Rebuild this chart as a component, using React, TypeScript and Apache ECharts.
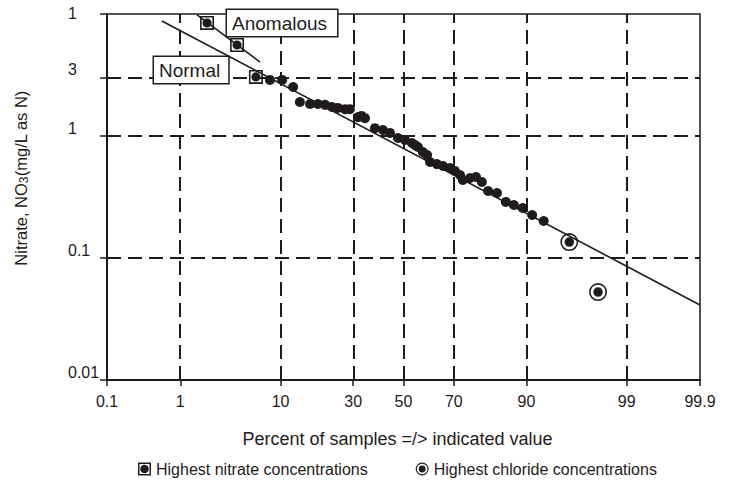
import React, { useEffect, useRef } from 'react';
import * as echarts from 'echarts';

// ---------- data ----------
const xTickPercents = [0.1, 1, 10, 30, 50, 70, 90, 99, 99.9];
const xTickLabels = ['0.1', '1', '10', '30', '50', '70', '90', '99', '99.9'];
const xGridPercents = [1, 10, 30, 50, 70, 90, 99];
const yTickValues = [0.01, 0.1, 1, 3, 10];
const yTickLabels = ['0.01', '0.1', '1', '3', '1'];
const yGridValues = [0.1, 1, 3];

const samplePercent = [
  8.2, 10.3, 12.5, 14.0, 16.5, 18.6, 20.7, 22.8, 24.7, 27.1, 28.8, 31.8, 33.1, 34.4,
  38.3, 41.5, 44.4, 47.7, 50.6, 53.5, 54.8, 56.0, 58.0, 59.7, 60.9, 63.6, 66.0, 68.6,
  70.4, 72.2, 73.2, 75.6, 77.5, 79.3, 81.1, 83.5, 85.7, 87.5, 89.3, 91.0, 92.8,
];
const sampleNitrate = [
  2.88, 2.88, 2.52, 1.90, 1.83, 1.83, 1.80, 1.73, 1.70, 1.66, 1.66, 1.43, 1.46, 1.40,
  1.16, 1.12, 1.06, 0.963, 0.927, 0.876, 0.843, 0.813, 0.739, 0.699, 0.612, 0.589, 0.568, 0.547,
  0.517, 0.479, 0.436, 0.453, 0.461, 0.420, 0.354, 0.341, 0.288, 0.272, 0.257, 0.225, 0.201,
];

const nitratePercent = [2.03, 4.14, 6.2];
const nitrateValue = [8.44, 5.57, 3.05];

const chloridePercent = [95.8, 97.87];
const chlorideValue = [0.135, 0.0526];

const normalLinePercent = [0.59, 99.9];
const normalLineValue = [8.77, 0.0412];

const anomLinePercent = [1.57, 6.74];
const anomLineValue = [9.82, 4.04];

// ---------- scale transforms (probability axis / log axis) ----------
function probit(p: number): number {
  const a = [-3.969683028665376e1, 2.209460984245205e2, -2.759285104469687e2, 1.38357751867269e2, -3.066479806614716e1, 2.506628277459239];
  const b = [-5.447609879822406e1, 1.615858368580409e2, -1.556989798598866e2, 6.680131188771972e1, -1.328068155288572e1];
  const c = [-7.784894002430293e-3, -3.223964580411365e-1, -2.400758277161838, -2.549732539343734, 4.374664141464968, 2.938163982698783];
  const d = [7.784695709041462e-3, 3.224671290700398e-1, 2.445134137142996, 3.754408661907416];
  const plow = 0.02425;
  if (p < plow) {
    const q = Math.sqrt(-2 * Math.log(p));
    return (((((c[0] * q + c[1]) * q + c[2]) * q + c[3]) * q + c[4]) * q + c[5]) / ((((d[0] * q + d[1]) * q + d[2]) * q + d[3]) * q + 1);
  }
  if (p <= 1 - plow) {
    const q = p - 0.5;
    const r = q * q;
    return ((((((a[0] * r + a[1]) * r + a[2]) * r + a[3]) * r + a[4]) * r + a[5]) * q) / (((((b[0] * r + b[1]) * r + b[2]) * r + b[3]) * r + b[4]) * r + 1);
  }
  const q = Math.sqrt(-2 * Math.log(1 - p));
  return -(((((c[0] * q + c[1]) * q + c[2]) * q + c[3]) * q + c[4]) * q + c[5]) / ((((d[0] * q + d[1]) * q + d[2]) * q + d[3]) * q + 1);
}
const zOf = (pct: number) => probit(pct / 100);
const lg = (v: number) => Math.log10(v);
const pair = (xs: number[], ys: number[]) => xs.map((x, i) => [zOf(x), lg(ys[i])]);

const INK = '#1f1b1c';
const FONT = '"Liberation Sans", Arial, Helvetica, sans-serif';

const BOX_DOT = 'path://M0 0H26V26H0Z M3 3V23H23V3Z M4.5 13A8.5 8.5 0 1 1 21.5 13A8.5 8.5 0 1 1 4.5 13Z';
const RING_DOT = 'path://M0 17A17 17 0 1 1 34 17A17 17 0 1 1 0 17Z M3 17A14 14 0 1 0 31 17A14 14 0 1 0 3 17Z M8 17A9 9 0 1 1 26 17A9 9 0 1 1 8 17Z';

export default function App() {
  const ref = useRef<HTMLDivElement>(null);
  useEffect(() => {
    if (!ref.current) return;
    const chart = echarts.init(ref.current, null, { renderer: 'svg' });
    const xTickZ = xTickPercents.map(zOf);
    const yTickL = yTickValues.map(lg);
    const xMin = xTickZ[0];
    const xMax = xTickZ[xTickZ.length - 1];
    const yMin = yTickL[0];
    const yMax = yTickL[yTickL.length - 1];
    const nearest = (arr: number[], v: number) => {
      let best = 0;
      arr.forEach((a, i) => { if (Math.abs(a - v) < Math.abs(arr[best] - v)) best = i; });
      return best;
    };

    const option: any = {
      animation: false,
      grid: { left: 107, right: 34, top: 14, bottom: 103, show: true, borderColor: INK, borderWidth: 1.5, backgroundColor: 'transparent' },
      legend: {
        left: 133, top: 456, itemWidth: 13, itemHeight: 13, itemGap: 48, itemTextGap: 9,
        itemStyle: { color: INK, opacity: 1 },
        textStyle: { fontSize: 16, color: INK, fontFamily: FONT },
        data: [
          { name: 'Highest nitrate concentrations', icon: BOX_DOT },
          { name: 'Highest chloride concentrations', icon: RING_DOT },
        ],
        selectedMode: false,
      },
      xAxis: {
        type: 'value', min: xMin, max: xMax,
        name: 'Percent of samples =/> indicated value', nameLocation: 'middle', nameGap: 50,
        nameTextStyle: { fontSize: 18, color: INK, fontFamily: FONT, padding: [0, 12, 0, 0] },
        axisLine: { show: true, onZero: false, lineStyle: { color: INK, width: 2 } },
        axisTick: { show: true, length: 6, customValues: xTickZ, lineStyle: { color: INK, width: 1.5 } },
        axisLabel: {
          customValues: xTickZ, margin: 13, fontSize: 16, color: INK, fontFamily: FONT,
          formatter: (v: number) => xTickLabels[nearest(xTickZ, v)],
        },
        splitLine: { show: false },
      },
      yAxis: {
        type: 'value', min: yMin, max: yMax,
        axisLine: { show: true, onZero: false, lineStyle: { color: INK, width: 2 } },
        axisTick: { show: true, length: 7, customValues: yTickL, lineStyle: { color: INK, width: 1.5 } },
        axisLabel: {
          customValues: yTickL, margin: 39, align: 'left', verticalAlign: 'bottom',
          fontSize: 16, color: INK, fontFamily: FONT,
          formatter: (v: number) => {
            const i = nearest(yTickL, v);
            return i === yTickL.length - 1 ? '{t|' + yTickLabels[i] + '}' : '{n|' + yTickLabels[i] + '}';
          },
          rich: {
            n: { fontSize: 16, lineHeight: 16, color: INK, fontFamily: FONT },
            t: { fontSize: 16, lineHeight: 2, color: INK, fontFamily: FONT },
          },
        },
        splitLine: { show: false },
      },
      graphic: [
        {
          type: 'text', x: 21, y: 178, rotation: Math.PI / 2, z: 100,
          style: {
            text: '{a|Nitrate, NO}{s|3}{a|(mg/L as N)}',
            align: 'center', verticalAlign: 'middle',
            rich: {
              a: { fontSize: 16.5, fill: INK, fontFamily: FONT, lineHeight: 18 },
              s: { fontSize: 12, fill: INK, fontFamily: FONT, lineHeight: 18, verticalAlign: 'bottom', padding: [5, 0, 0, 0] },
            },
          },
        },
        {
          type: 'text', x: 227, y: 10, z: 100,
          style: {
            text: 'Anomalous', font: '19px ' + FONT, fill: INK,
            backgroundColor: '#fff', borderColor: INK, borderWidth: 1.5, padding: [4, 10, 3, 5],
          },
        },
        {
          type: 'text', x: 154, y: 57, z: 100,
          style: {
            text: 'Normal', font: '19px ' + FONT, fill: INK,
            backgroundColor: '#fff', borderColor: INK, borderWidth: 1.5, padding: [4, 8, 3, 5],
          },
        },
      ],
      series: [
        {
          type: 'line', data: [], z: 1, silent: true,
          markLine: {
            silent: true, symbol: ['none', 'none'], label: { show: false },
            lineStyle: { type: [14, 7], color: INK, width: 2 },
            emphasis: { disabled: true },
            data: [
              ...xGridPercents.map((p) => ({ xAxis: zOf(p) })),
              ...yGridValues.map((v) => ({ yAxis: lg(v) })),
            ],
          },
        },
        {
          type: 'line', name: 'normal', data: pair(normalLinePercent, normalLineValue),
          symbol: 'none', lineStyle: { color: INK, width: 1.6 }, z: 3, silent: true,
        },
        {
          type: 'line', name: 'anomalous', data: pair(anomLinePercent, anomLineValue),
          symbol: 'none', lineStyle: { color: INK, width: 1.6 }, z: 3, silent: true,
        },
        {
          type: 'scatter', name: 'samples', data: pair(samplePercent, sampleNitrate),
          symbol: 'circle', symbolSize: 10, itemStyle: { color: INK, opacity: 1 }, z: 4,
        },
        {
          type: 'scatter', name: 'Highest nitrate concentrations', data: pair(nitratePercent, nitrateValue),
          symbol: BOX_DOT, symbolSize: 14, itemStyle: { color: INK, opacity: 1 }, z: 5,
        },
        {
          type: 'scatter', name: 'Highest chloride concentrations', data: pair(chloridePercent, chlorideValue),
          symbol: RING_DOT, symbolSize: 18, itemStyle: { color: INK, opacity: 1 }, z: 5,
        },
      ],
    };
    chart.setOption(option);
    return () => chart.dispose();
  }, []);
  return <div ref={ref} style={{ position: 'fixed', left: 0, top: 0, width: 734, height: 483, background: '#fff' }} />;
}
